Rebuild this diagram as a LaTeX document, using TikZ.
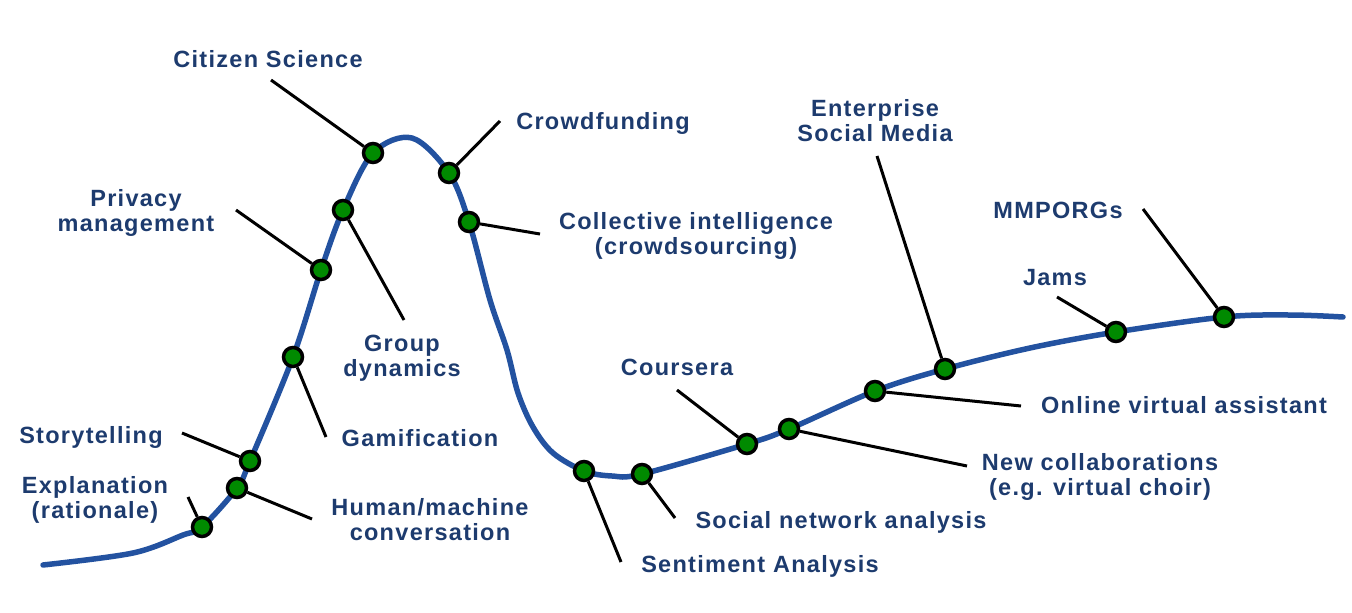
\documentclass[tikz,border=0pt]{standalone}
\usepackage{fontspec}
\setmainfont[LetterSpace=5.5]{Liberation Sans}
\usepackage{tikz}
\usetikzlibrary{positioning}
\definecolor{hypeblue}{HTML}{2352A0}
\definecolor{labelnavy}{HTML}{1D3B6E}
\definecolor{dotgreen}{HTML}{008A00}

\begin{document}
\begin{tikzpicture}[x=1pt, y=-1pt,
    dot/.style={circle, draw=black, line width=3.5pt, fill=dotgreen, minimum size=19pt, inner sep=0pt},
    tag/.style={font=\bfseries\fontsize{23.5}{25}\selectfont, text=labelnavy, align=center, inner sep=0pt, anchor=base},
    leader/.style={black, line width=3pt},
    hype/.style={hypeblue, line width=5.5pt, line cap=round}]
    \useasboundingbox (0,0) rectangle (1352,613);

    % Curve
    \draw[hype] plot[smooth, tension=0.55] coordinates {
        (43,565) (133,553) (183,535) (202,527) (237,488) (250,461) (293,357)
        (321,270) (343,210) (373,153) (412,138) (449,173) (469,222) (490,300)
        (507,350) (518,393) (533,427) (553,453) (584,471) (612,476) (642,474)
        (747,444) (789,429) (875,391) (945,369) (1030,348) (1116,332)
        (1224,317) (1290,315) (1343,317)};

    % Dots
    \node[dot] (explain) at (202,527) {};
    \node[dot] (human)   at (237,488) {};
    \node[dot] (story)   at (250,461) {};
    \node[dot] (gamif)   at (293,357) {};
    \node[dot] (privacy) at (321,270) {};
    \node[dot] (group)   at (343,210) {};
    \node[dot] (citizen) at (373,153) {};
    \node[dot] (crowdf)  at (449,173) {};
    \node[dot] (collect) at (469,222) {};
    \node[dot] (senti)   at (584,471) {};
    \node[dot] (social)  at (642,474) {};
    \node[dot] (course)  at (747,444) {};
    \node[dot] (newcol)  at (789,429) {};
    \node[dot] (online)  at (875,391) {};
    \node[dot] (enterp)  at (945,369) {};
    \node[dot] (jams)    at (1116,332) {};
    \node[dot] (mmporg)  at (1224,317) {};

    % Labels (base = last line)
    \node[tag] (tcitizen) at (268,67)  {Citizen Science};
    \node[tag] (tcrowdf)  at (603,129) {Crowdfunding};
    \node[tag] (tcollect) at (696,254) {Collective intelligence\\(crowdsourcing)};
    \node[tag] (tenterp)  at (875,141) {Enterprise\\Social Media};
    \node[tag] (tmmporg)  at (1058,218) {MMPORGs};
    \node[tag] (tjams)    at (1055,285) {Jams};
    \node[tag] (tprivacy) at (136,231) {Privacy\\management};
    \node[tag] (tgroup)   at (402,376) {Group\\dynamics};
    \node[tag] (tgamif)   at (420,446) {Gamification};
    \node[tag] (thuman)   at (430,540) {Human/machine\\conversation};
    \node[tag] (tstory)   at (91,443)  {Storytelling};
    \node[tag] (texplain) at (95,518)  {Explanation\\(rationale)};
    \node[tag] (tsenti)   at (760,572) {Sentiment Analysis};
    \node[tag] (tsocial)  at (841,528) {Social network analysis};
    \node[tag] (tcourse)  at (677,375) {Coursera};
    \node[tag] (tonline)  at (1184,413) {Online virtual assistant};
    \node[tag] (tnewcol)  at (1100,495) {New collaborations\\(e.g. virtual choir)};

    % Leader ends
    \coordinate (ecitizen) at (271,80);
    \coordinate (ecrowdf)  at (500,121);
    \coordinate (ecollect) at (540,234);
    \coordinate (eprivacy) at (236,210);
    \coordinate (egroup)   at (404,320);
    \coordinate (egamif)   at (326,437);
    \coordinate (ehuman)   at (312,519);
    \coordinate (estory)   at (182,433);
    \coordinate (eexplain) at (188,497);
    \coordinate (esenti)   at (621,562);
    \coordinate (esocial)  at (675,518);
    \coordinate (ecourse)  at (677,390);
    \coordinate (enewcol)  at (967,466);
    \coordinate (eonline)  at (1021,406);
    \coordinate (eenterp)  at (877,156);
    \coordinate (ejams)    at (1057,297);
    \coordinate (emmporg)  at (1143,209);

    % Leaders
    \foreach \d in {citizen,crowdf,collect,privacy,group,gamif,human,story,
        explain,senti,social,course,newcol,online,enterp,jams,mmporg}
        \draw[leader] (\d) -- (e\d);
\end{tikzpicture}
\end{document}
